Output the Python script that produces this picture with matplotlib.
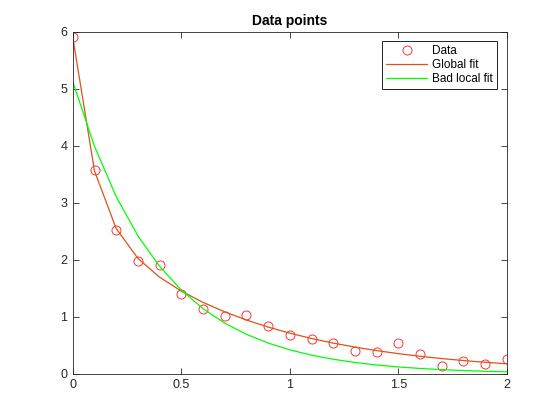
import matplotlib
matplotlib.use("Agg")
import matplotlib.pyplot as plt

plt.rcParams['font.family'] = ['Liberation Sans', 'DejaVu Sans']

t = [0.0, 0.1, 0.2, 0.3, 0.4, 0.5, 0.6, 0.7, 0.8, 0.9, 1.0,
     1.1, 1.2, 1.3, 1.4, 1.5, 1.6, 1.7, 1.8, 1.9, 2.0]
data_y = [5.8955, 3.5639, 2.5173, 1.9790, 1.8990, 1.3938, 1.1359, 1.0096, 1.0343, 0.8435, 0.6856,
          0.6100, 0.5392, 0.3946, 0.3903, 0.5474, 0.3459, 0.1370, 0.2211, 0.1704, 0.2636]
global_fit = [5.8959, 3.5547, 2.5452, 2.0236, 1.6936, 1.4496, 1.2522, 1.0859, 0.9430, 0.8195, 0.7123,
              0.6192, 0.5383, 0.4679, 0.4068, 0.3536, 0.3074, 0.2673, 0.2323, 0.2020, 0.1756]
bad_fit = [5.120, 3.987, 3.105, 2.418, 1.883, 1.467, 1.142, 0.889, 0.693, 0.539, 0.420,
           0.327, 0.255, 0.198, 0.154, 0.120, 0.094, 0.073, 0.057, 0.044, 0.035]
xticks = [0, 0.5, 1, 1.5, 2]
xticklabels = ['0', '0.5', '1', '1.5', '2']
yticks = [0, 1, 2, 3, 4, 5, 6]

fig = plt.figure(figsize=(5.6, 4.2), dpi=100)
fig.patch.set_facecolor('white')
ax = fig.add_axes([0.13, 0.11, 0.775, 0.815])

ax.plot(t, data_y, 'o', markerfacecolor='none', markeredgecolor=(1, 0.2, 0.2),
        markersize=6.5, markeredgewidth=0.7, label='Data')
ax.plot(t, global_fit, '-', color='#D95319', linewidth=0.9, label='Global fit')
ax.plot(t, bad_fit, '-', color=(0, 1, 0), linewidth=0.9, label='Bad local fit')

ax.set_xlim(0, 2)
ax.set_ylim(0, 6)
ax.set_xticks(xticks)
ax.set_xticklabels(xticklabels)
ax.set_yticks(yticks)
ax.tick_params(direction='in', top=True, right=True, length=4, width=0.6,
               labelsize=9, colors='#262626', pad=4)
for s in ax.spines.values():
    s.set_linewidth(0.6)
    s.set_color('#262626')
ax.set_title('Data points', fontsize=10, fontweight='bold', pad=5)

leg = ax.legend(loc='upper right', fontsize=8.5, frameon=True, fancybox=False,
                edgecolor='black', framealpha=1, borderpad=0.35, labelspacing=0.18,
                handlelength=3.4, handletextpad=0.5, borderaxespad=0.8)
leg.get_frame().set_linewidth(0.6)

fig.savefig('out.png', dpi=100, facecolor='white')
